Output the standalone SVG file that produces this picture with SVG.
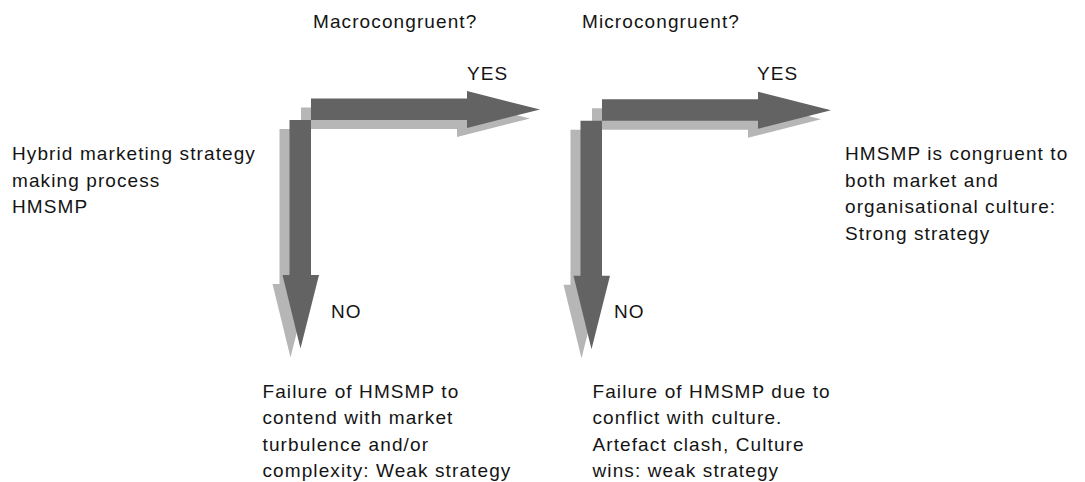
<svg xmlns="http://www.w3.org/2000/svg" width="1085" height="482" viewBox="0 0 1085 482">
<style>
text{font-family:"Liberation Sans",Arial,sans-serif;font-size:19px;letter-spacing:1.1px;fill:#141414}
.dark{fill:#636363}
.light{fill:#b6b6b6}
</style>
<defs>
<g id="harrow"><polygon points="311,98.5 467,98.5 467,91 540,109.5 467,128 467,120 311,120"/></g>
<g id="varrow"><polygon points="289.5,120 311,120 311,275 319,275 300.5,348.5 282.5,275 289.5,275"/></g>
<g id="bend">
<g class="light" transform="translate(-10,9)"><use href="#harrow"/><use href="#varrow"/></g>
<g class="dark"><use href="#harrow"/><use href="#varrow"/></g>
</g>
</defs>
<g id="connectors">
<g id="macro-arrows"><use href="#bend"/></g>
<g id="micro-arrows" transform="translate(291,0.7)"><use href="#bend"/></g>
</g>
<g id="start"><text x="12" y="160">Hybrid marketing strategy</text><text x="12" y="186.5">making process</text><text x="12" y="213">HMSMP</text></g>
<g id="q-macro"><text x="313" y="28">Macrocongruent?</text></g>
<g id="q-micro"><text x="582" y="28">Microcongruent?</text></g>
<g id="yes1"><text x="467" y="80">YES</text></g>
<g id="yes2"><text x="757" y="80">YES</text></g>
<g id="no1"><text x="331" y="318">NO</text></g>
<g id="no2"><text x="614" y="318">NO</text></g>
<g id="fail-macro"><text x="262.5" y="397.5">Failure of HMSMP to</text><text x="262.5" y="424">contend with market</text><text x="262.5" y="450.5">turbulence and/or</text><text x="262.5" y="477">complexity: Weak strategy</text></g>
<g id="fail-micro"><text x="592.5" y="397.5">Failure of HMSMP due to</text><text x="592.5" y="424">conflict with culture.</text><text x="592.5" y="450.5">Artefact clash, Culture</text><text x="592.5" y="477">wins: weak strategy</text></g>
<g id="strong"><text x="845" y="159.5">HMSMP is congruent to</text><text x="845" y="186.5">both market and</text><text x="845" y="213">organisational culture:</text><text x="845" y="239.5">Strong strategy</text></g>
</svg>
